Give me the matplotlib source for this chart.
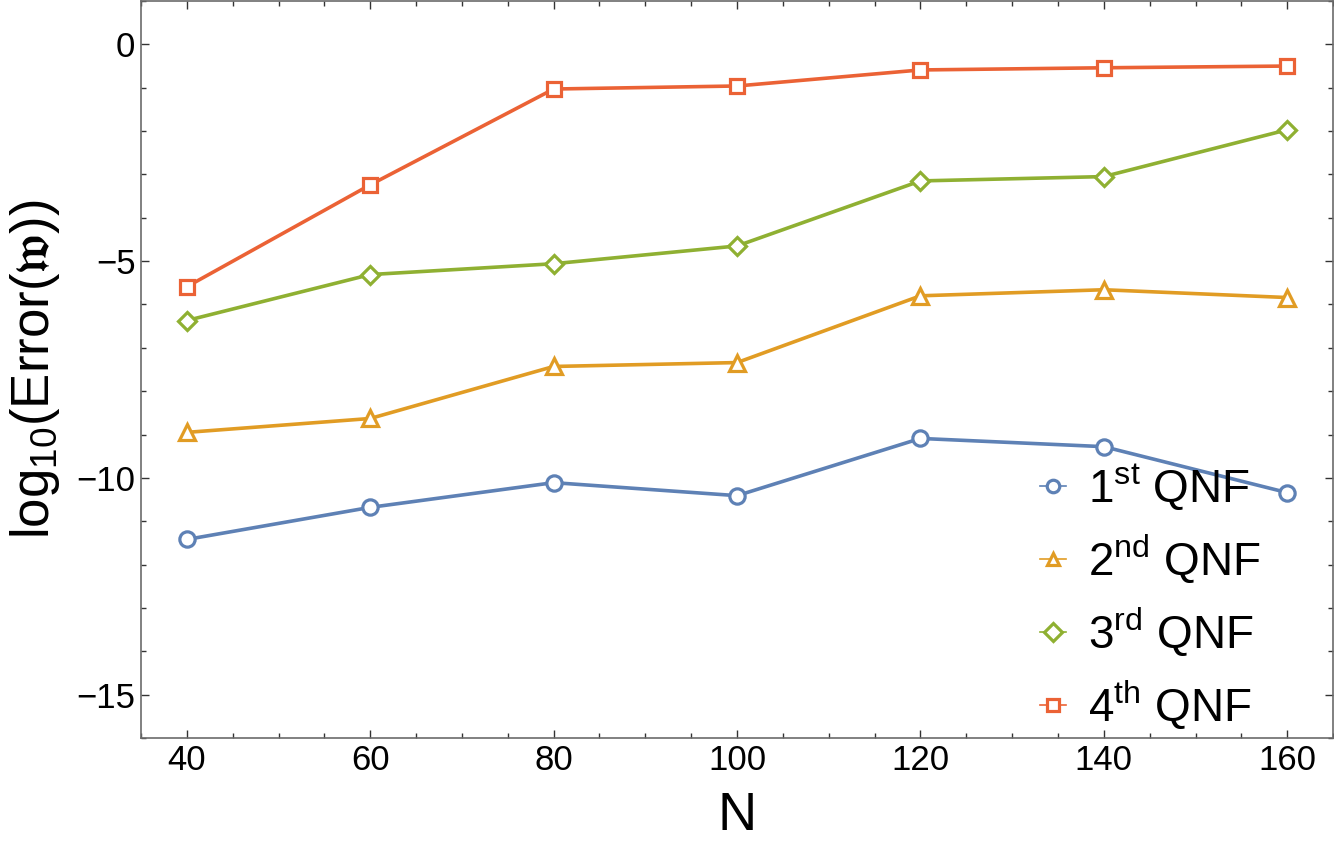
import matplotlib
matplotlib.use("Agg")
import matplotlib.pyplot as plt
from matplotlib.ticker import MultipleLocator

plt.rcParams['font.family'] = ['Liberation Sans', 'DejaVu Sans']
plt.rcParams['mathtext.fontset'] = 'custom'
plt.rcParams['mathtext.rm'] = 'Liberation Sans'
plt.rcParams['mathtext.it'] = 'Liberation Sans:italic'
plt.rcParams['mathtext.bf'] = 'Liberation Sans:bold'
plt.rcParams['mathtext.fallback'] = 'stix'

N = [40, 60, 80, 100, 120, 140, 160]
qnf1 = [-11.42, -10.68, -10.11, -10.41, -9.09, -9.28, -10.34]
qnf2 = [-8.95, -8.63, -7.43, -7.34, -5.80, -5.66, -5.84]
qnf3 = [-6.37, -5.31, -5.06, -4.65, -3.15, -3.05, -1.97]
qnf4 = [-5.59, -3.24, -1.03, -0.96, -0.59, -0.54, -0.50]

labels = [r'1$^{\mathrm{st}}$ QNF', r'2$^{\mathrm{nd}}$ QNF',
          r'3$^{\mathrm{rd}}$ QNF', r'4$^{\mathrm{th}}$ QNF']
colors = ['#5E81B5', '#E19C24', '#8FB032', '#EB6235']
markers = ['o', '^', 'D', 's']
msizes = [11, 12, 9, 10]
yticks = [0, -5, -10, -15]
yticklabels = ['0', '\u22125', '\u221210', '\u221215']

fig = plt.figure(figsize=(13.34, 8.51), dpi=100)
ax = fig.add_axes([0.1057, 0.1328, 0.8936, 0.8660])

for ys, c, m, ms, lab in zip([qnf1, qnf2, qnf3, qnf4], colors, markers, msizes, labels):
    ax.plot(N, ys, color=c, lw=2.6, marker=m, ms=ms, mfc='white',
            mec=c, mew=2.3, label=lab)

ax.set_xlim(35, 165)
ax.set_ylim(-16, 1.0)
ax.xaxis.set_major_locator(MultipleLocator(20))
ax.xaxis.set_minor_locator(MultipleLocator(5))
ax.yaxis.set_minor_locator(MultipleLocator(1))
ax.set_yticks(yticks)
ax.set_yticklabels(yticklabels)
ax.tick_params(which='both', direction='in', top=True, right=True,
               labelsize=25, color='#333333', width=1)
ax.tick_params(which='major', length=6)
ax.tick_params(which='minor', length=3.5)
ax.tick_params(axis='x', which='major', pad=4)
ax.tick_params(axis='y', which='major', pad=4)
for sp in ax.spines.values():
    sp.set_color('#6b6b6b')
    sp.set_linewidth(1.2)

ax.set_xlabel('N', fontsize=39)
ax.xaxis.set_label_coords(0.5, -0.072)
ax.set_ylabel(r'log$_{10}$(Error($\mathfrak{w}$))', fontsize=38)
ax.yaxis.set_label_coords(-0.066, 0.5)

leg = ax.legend(loc='lower right', bbox_to_anchor=(1261 / 1334, 1 - 731 / 851),
                bbox_transform=fig.transFigure, frameon=False,
                fontsize=33, handlelength=0.58, handletextpad=0.48,
                labelspacing=0.45, borderaxespad=0, borderpad=0)
for h in leg.legend_handles:
    h.set_linewidth(1.2)
    h.set_markersize(9)
    h.set_markeredgewidth(2.3)

fig.savefig('out.png', dpi=100)
